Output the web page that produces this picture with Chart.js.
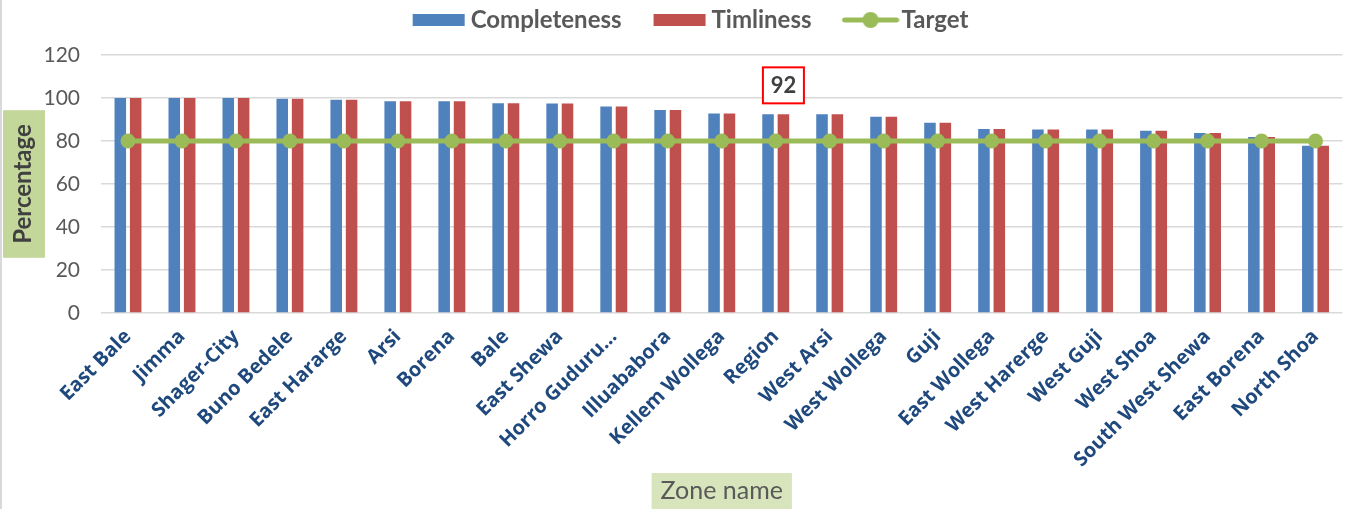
<!DOCTYPE html>
<html>
<head>
<meta charset="utf-8">
<title>Completeness and Timliness by Zone</title>
<script src="https://cdn.jsdelivr.net/npm/chart.js@4.4.0/dist/chart.umd.min.js"></script>
<style>
    html, body { margin: 0; padding: 0; background: #fff; }
    #wrap { width: 1350px; height: 509px; position: relative; }
</style>
</head>
<body>
<div id="wrap"><canvas id="zone-chart"></canvas></div>
<script>
// Chart data
const zones = ['East Bale', 'Jimma', 'Shager-City', 'Buno Bedele', 'East Hararge', 'Arsi', 'Borena', 'Bale',
    'East Shewa', 'Horro Guduru...', 'Illuababora', 'Kellem Wollega', 'Region', 'West Arsi', 'West Wollega',
    'Guji', 'East Wollega', 'West Harerge', 'West Guji', 'West Shoa', 'South West Shewa', 'East Borena', 'North Shoa'];
const completeness = [100, 100, 100, 99.7, 99.2, 98.5, 98.5, 97.6, 97.5, 96.0, 94.4, 92.8, 92.4, 92.4, 91.3,
    88.5, 85.6, 85.3, 85.3, 84.8, 83.7, 81.9, 77.8];
const timliness = [100, 100, 100, 99.7, 99.2, 98.5, 98.5, 97.6, 97.5, 96.0, 94.4, 92.8, 92.4, 92.4, 91.3,
    88.5, 85.6, 85.3, 85.3, 84.8, 83.7, 81.9, 77.8];
const target = [80, 80, 80, 80, 80, 80, 80, 80, 80, 80, 80, 80, 80, 80, 80, 80, 80, 80, 80, 80, 80, 80, 80];
const yMin = 0;
const yMax = 120;
const yStep = 20;
const labelledZone = 'Region';

const BLUE = '#4f81bd';
const RED = '#c0504d';
const GREEN = '#9bbb59';
const GREY_TEXT = '#595959';

// Legend icons: the glyph sits at the right end of a wider transparent canvas,
// so the gap to the label text stays small and the gap to the previous item large
const ICON_BOX = 70;
const ICON_W = ICON_BOX + 20;
const ICON_H = 20;

function makeBarIcon(color) {
    const c = document.createElement('canvas');
    c.width = ICON_W;
    c.height = ICON_H;
    const g = c.getContext('2d');
    g.fillStyle = color;
    g.fillRect(ICON_W - 4 - 52, ICON_H / 2 - 6, 52, 12);
    return c;
}

function makeLineIcon(color) {
    const c = document.createElement('canvas');
    c.width = ICON_W;
    c.height = ICON_H;
    const g = c.getContext('2d');
    const x1 = ICON_W - 1;
    const x0 = x1 - 56;
    g.strokeStyle = color;
    g.lineWidth = 5;
    g.lineCap = 'round';
    g.beginPath();
    g.moveTo(x0 + 2, ICON_H / 2);
    g.lineTo(x1 - 2, ICON_H / 2);
    g.stroke();
    g.fillStyle = color;
    g.beginPath();
    g.arc((x0 + x1) / 2, ICON_H / 2, 8, 0, Math.PI * 2);
    g.fill();
    return c;
}

const legendIcons = [makeBarIcon(BLUE), makeBarIcon(RED), makeLineIcon(GREEN)];

// White background and left chart border
const chartBackground = {
    id: 'chartBackground',
    beforeDraw(chart) {
        const ctx = chart.ctx;
        ctx.save();
        ctx.fillStyle = '#ffffff';
        ctx.fillRect(0, 0, chart.width, chart.height);
        ctx.strokeStyle = '#d9d9d9';
        ctx.lineWidth = 2;
        ctx.beginPath();
        ctx.moveTo(1, 0);
        ctx.lineTo(1, chart.height);
        ctx.stroke();
        ctx.restore();
    }
};

// Green boxes behind the axis titles
const titleBoxes = {
    id: 'titleBoxes',
    beforeDraw(chart) {
        const ctx = chart.ctx;
        const x = chart.scales.x;
        const y = chart.scales.y;
        ctx.save();
        ctx.font = 'bold 24px Lato';
        const yw = ctx.measureText(y.options.title.text).width;
        const cy = (y.top + y.bottom) / 2;
        ctx.fillStyle = '#c4d79b';
        ctx.fillRect(y.left + 1, cy - yw / 2 - 14, 42, yw + 28);

        ctx.font = '25px Lato';
        const xw = ctx.measureText(x.options.title.text).width;
        const cx = (x.left + x.right) / 2;
        ctx.fillStyle = '#d8e4bc';
        ctx.fillRect(cx - xw / 2 - 9, x.bottom - 36, xw + 18, 40);
        ctx.restore();
    }
};

// Boxed data label over the Region bar
const regionLabel = {
    id: 'regionLabel',
    afterDatasetsDraw(chart) {
        const idx = zones.indexOf(labelledZone);
        const bar = chart.getDatasetMeta(1).data[idx];
        if (!bar) return;
        const ctx = chart.ctx;
        const w = 41, h = 36;
        const left = bar.x - w / 2;
        const top = bar.y - 11 - h;
        ctx.save();
        ctx.fillStyle = '#ffffff';
        ctx.fillRect(left, top, w, h);
        ctx.strokeStyle = '#ff0000';
        ctx.lineWidth = 2;
        ctx.strokeRect(left, top, w, h);
        ctx.fillStyle = '#404040';
        ctx.font = 'bold 22px Lato';
        ctx.textAlign = 'center';
        ctx.textBaseline = 'middle';
        ctx.fillText(String(Math.round(timliness[idx])), bar.x, top + h / 2 + 1);
        ctx.restore();
    }
};

// Fix legend height so the plot starts where it does in the original,
// and nudge the legend a little right like the original
const legendPlacement = {
    id: 'legendPlacement',
    beforeInit(chart) {
        const originalFit = chart.legend.fit;
        chart.legend.fit = function fit() {
            originalFit.bind(chart.legend)();
            this.height = 55;
        };
    },
    afterLayout(chart) {
        chart.legend.left += 4;
        chart.legend.right += 4;
    }
};

const ctx = document.getElementById('zone-chart').getContext('2d');

new Chart(ctx, {
    type: 'bar',
    data: {
        labels: zones,
        datasets: [
            {
                label: 'Completeness',
                data: completeness,
                backgroundColor: BLUE,
                borderWidth: 0,
                order: 1
            },
            {
                label: 'Timliness',
                data: timliness,
                backgroundColor: RED,
                borderWidth: 0,
                order: 1
            },
            {
                type: 'line',
                label: 'Target',
                data: target,
                borderColor: GREEN,
                backgroundColor: GREEN,
                borderWidth: 5,
                pointRadius: 7.5,
                pointHoverRadius: 7.5,
                pointBackgroundColor: GREEN,
                pointBorderWidth: 0,
                fill: false,
                tension: 0,
                order: 0
            }
        ]
    },
    options: {
        responsive: true,
        maintainAspectRatio: false,
        animation: false,
        layout: {
            padding: { left: 2, right: 3, top: 0, bottom: 0 }
        },
        datasets: {
            bar: {
                categoryPercentage: 0.57,
                barPercentage: 0.75
            }
        },
        plugins: {
            legend: {
                position: 'top',
                labels: {
                    usePointStyle: true,
                    pointStyleWidth: ICON_BOX,
                    boxHeight: 12,
                    padding: 8,
                    color: GREY_TEXT,
                    font: { family: 'Lato', size: 24, weight: 'bold' },
                    sort: (a, b) => a.datasetIndex - b.datasetIndex,
                    generateLabels(chart) {
                        const items = Chart.defaults.plugins.legend.labels.generateLabels(chart);
                        items.forEach(item => {
                            item.lineWidth = 0;
                            item.pointStyle = legendIcons[item.datasetIndex];
                        });
                        return items;
                    }
                }
            },
            tooltip: { enabled: false }
        },
        scales: {
            x: {
                grid: { display: false },
                border: { display: false },
                ticks: {
                    autoSkip: false,
                    maxRotation: 45,
                    minRotation: 45,
                    padding: 4,
                    color: '#1f497d',
                    font: { family: 'Open Sans', size: 20, weight: 'bold' }
                },
                title: {
                    display: true,
                    text: 'Zone name',
                    color: GREY_TEXT,
                    font: { family: 'Lato', size: 25 },
                    padding: { top: 0, bottom: 3 }
                },
                afterFit(scale) {
                    scale.height = 196;
                }
            },
            y: {
                min: yMin,
                max: yMax,
                grid: {
                    color: '#d9d9d9',
                    lineWidth: 1.5,
                    drawTicks: false
                },
                border: { display: false },
                ticks: {
                    stepSize: yStep,
                    padding: 21,
                    color: GREY_TEXT,
                    font: { family: 'Lato', size: 21 }
                },
                title: {
                    display: true,
                    text: 'Percentage',
                    color: '#404040',
                    font: { family: 'Lato', size: 24, weight: 'bold' },
                    padding: { top: 7, bottom: 0 }
                },
                afterFit(scale) {
                    scale.width = 99;
                }
            }
        }
    },
    plugins: [chartBackground, titleBoxes, regionLabel, legendPlacement]
});
</script>
</body>
</html>
